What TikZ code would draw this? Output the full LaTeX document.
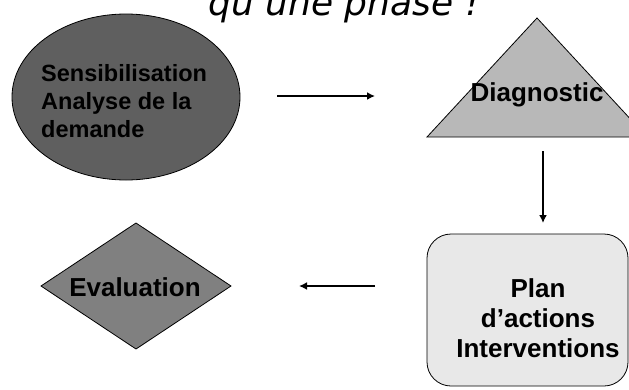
\documentclass[tikz,border=0pt]{standalone}
\usepackage{fontspec}
\setmainfont{Liberation Sans}
\newfontfamily\titlefont{DejaVu Sans}
\usetikzlibrary{arrows.meta}
\definecolor{darkfill}{HTML}{5F5F5F}
\definecolor{trifill}{HTML}{B8B8B8}
\definecolor{rectfill}{HTML}{E8E8E8}
\definecolor{diafill}{HTML}{808080}
\tikzset{
  shapeline/.style={draw=black, line width=0.8pt},
  lbl/.style={font=\bfseries\fontsize{26}{30}\selectfont, inner sep=0pt},
  conn/.style={line width=2.6pt, -{Latex[length=8pt,width=8pt]}},
}
\begin{document}
\begin{tikzpicture}[x=1pt,y=-1pt]
\useasboundingbox (0,0) rectangle (629,389);
% title (cut at top)
\node[font=\titlefont\itshape\fontsize{36}{42}\selectfont, anchor=base, inner sep=0pt] (title) at (344,15) {qu’une phase !};
% ellipse
\path[shapeline, fill=darkfill] (126,97) ellipse [x radius=114, y radius=83];
\node[lbl, font=\bfseries\fontsize{23.5}{28}\selectfont, align=left, anchor=west] (sens) at (41,101) {Sensibilisation\\Analyse de la\\demande};
% triangle
\path[shapeline, fill=trifill] (427,137) -- (537,18) -- (647,137) -- cycle;
\node[lbl] (diag) at (537,95) {Diagnostic};
% rounded rectangle
\path[shapeline, fill=rectfill, rounded corners=24pt] (427,234) rectangle (628,386);
\node[lbl, align=center] (plan) at (538,318) {Plan\\d’actions\\Interventions};
% diamond
\path[shapeline, fill=diafill] (41,286) -- (136,223) -- (231,286) -- (136,349) -- cycle;
\node[lbl] (eval) at (135,287) {Evaluation};
% connectors
\coordinate (a1s) at (277,96);
\coordinate (a1e) at (375,96);
\coordinate (a2s) at (543,151);
\coordinate (a2e) at (543,223);
\coordinate (a3s) at (375,286);
\coordinate (a3e) at (299,286);
\draw[conn] (a1s) -- (a1e);
\draw[conn] (a2s) -- (a2e);
\draw[conn] (a3s) -- (a3e);
\end{tikzpicture}
\end{document}
